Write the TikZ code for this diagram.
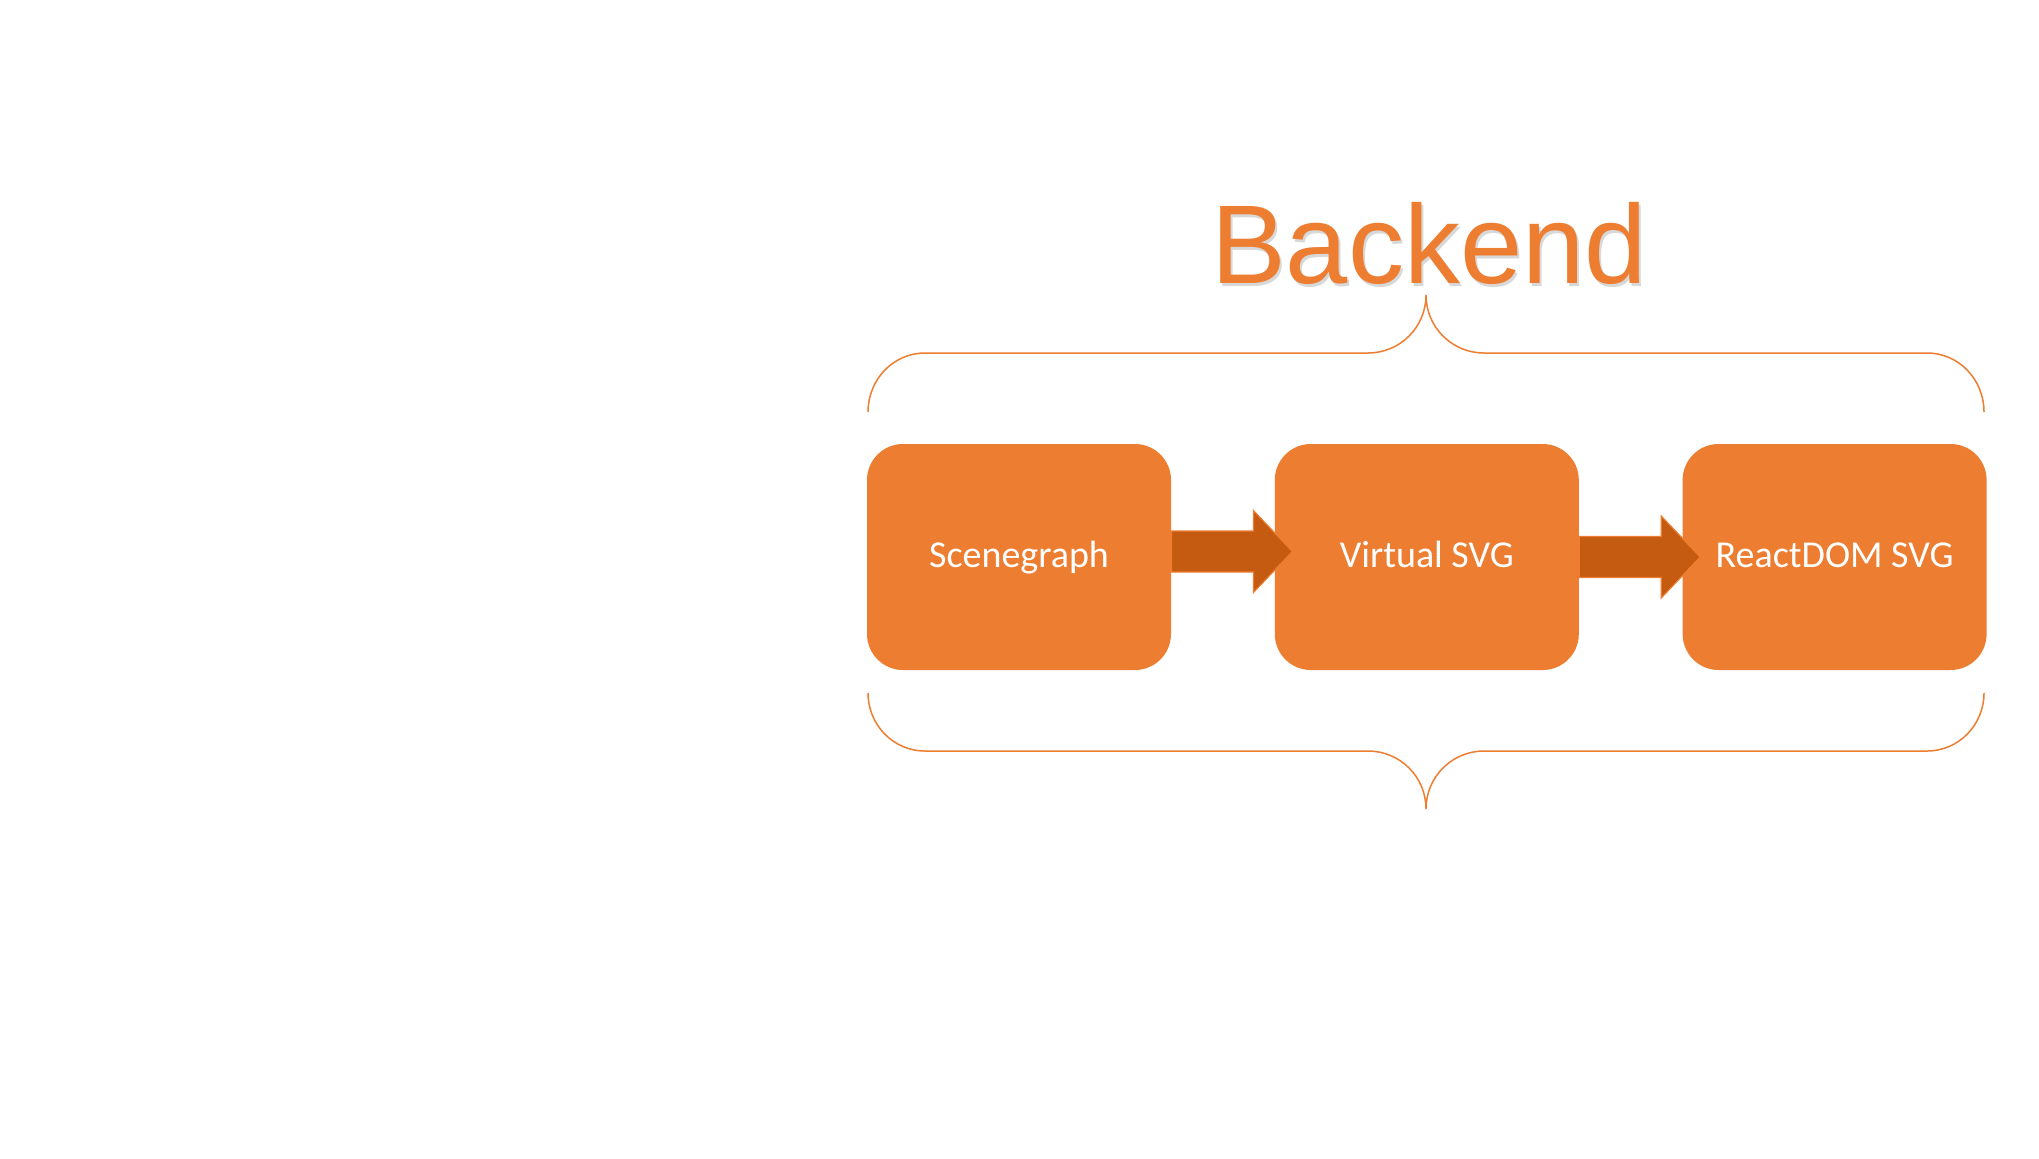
\documentclass[tikz,border=0pt]{standalone}
\usepackage{fontspec}
\setmainfont{Carlito}
\newfontfamily\headfont{Liberation Sans}
\usetikzlibrary{positioning,calc}
\definecolor{boxorange}{HTML}{ED7D31}
\definecolor{arroworange}{HTML}{C55A11}

\begin{document}
\begin{tikzpicture}[
    x=0.5pt, y=0.5pt,
    stage/.style={rectangle, fill=boxorange, text=white, minimum width=152pt, minimum height=113pt, rounded corners=18pt, inner sep=0pt, text height=13pt, text depth=3pt, font=\fontsize{19}{23}\selectfont},
    title/.style={font=\headfont\fontsize{56}{67}\selectfont, anchor=base, inner sep=0pt},
    brace/.style={draw=boxorange, line width=0.75pt},
    flow/.style={fill=arroworange, draw=boxorange, line width=0.6pt, line join=miter},
    node distance=51.5pt
]
\useasboundingbox (0,0) rectangle (2039,-1158);

% Stages
\node[stage] (scene) at (1019,-557) {Scenegraph};
\node[stage, right=of scene] (vsvg) {Virtual SVG};
\node[stage, right=of vsvg] (rdom) {ReactDOM SVG};

% Title
\node[title, text=black!30, opacity=0.5] (titleshadow) at (1431,-286) {Backend};
\node[title, text=boxorange] (backend) at (1429,-283) {Backend};

% Braces
\draw[brace] (868,-412) to[out=90,in=180] (925,-353) -- (1368,-353) to[out=0,in=-90] (1426,-295)
    to[out=-90,in=180] (1484,-353) -- (1927,-353) to[out=0,in=90] (1984,-412);
\draw[brace] (868,-693) to[out=-90,in=180] (925,-751) -- (1368,-751) to[out=0,in=90] (1426,-809)
    to[out=90,in=180] (1484,-751) -- (1927,-751) to[out=0,in=-90] (1984,-693);

% Flow arrows
\draw[flow] ($(scene.east)+(0,26)$) -- ++(82,0) -- ++(0,20.5) -- ++(39,-41) -- ++(-39,-41) -- ++(0,20.5) -- ++(-82,0) -- cycle;
\draw[flow] ($(vsvg.east)+(0,20.5)$) -- ++(82,0) -- ++(0,20.5) -- ++(39,-41) -- ++(-39,-41) -- ++(0,20.5) -- ++(-82,0) -- cycle;

\end{tikzpicture}
\end{document}
